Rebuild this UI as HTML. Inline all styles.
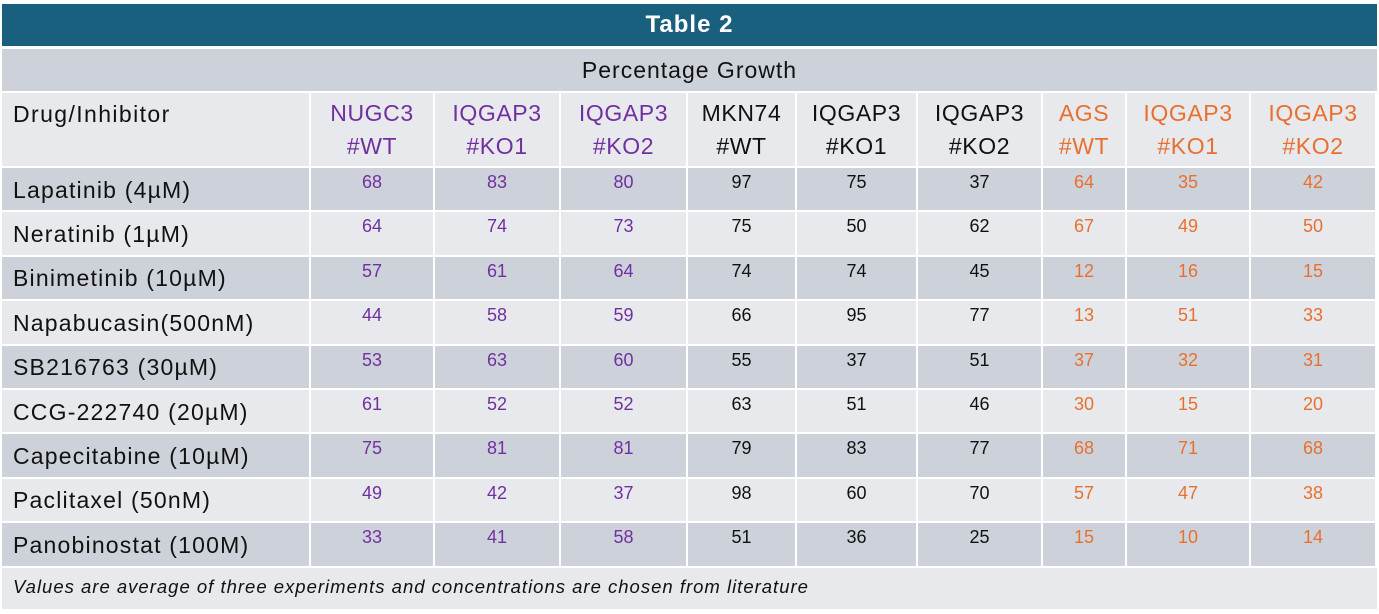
<!DOCTYPE html>
<html><head><meta charset="utf-8"><style>
*{margin:0;padding:0;box-sizing:border-box}
body{width:1379px;height:614px;background:#fff;font-family:"Liberation Sans",Arial,sans-serif;position:relative;overflow:hidden}
.title{position:absolute;left:2px;top:4px;width:1375px;height:42px;background:#19607f;color:#fff;font-weight:bold;font-size:24px;letter-spacing:1px;text-align:center;line-height:42px}
.sub{position:absolute;left:2px;top:49px;width:1375px;height:42px;background:#cdd2da;color:#111;font-size:23px;letter-spacing:1px;text-align:center;line-height:42px}
.grid{position:absolute;left:2px;top:93px;display:grid;grid-template-columns:309px 124px 126px 127px 109px 121px 125px 84px 124px 126px;grid-template-rows:75px repeat(9,44.4px) 43px}
.grid div{border-right:2px solid #fff;border-bottom:2px solid #fff;background:#e8e9ec;text-align:center;font-size:18px;padding-top:4px;color:#111}
.grid div.n{text-align:left;font-size:23px;letter-spacing:1.2px;padding:2px 0 0 11px;display:flex;align-items:center}
.grid div.h{font-size:23px;letter-spacing:0.6px;line-height:33px;padding-top:4px}
.grid div.hn{text-align:left;font-size:23px;letter-spacing:1.4px;padding:8px 0 0 11px}
.p{color:#7030a0!important}.o{color:#e8702f!important}
.grid div.dk{background:#cdd2da}
.foot{grid-column:1/11;text-align:left!important;font-style:italic;font-size:18.5px!important;letter-spacing:1px;padding:8px 0 0 11px!important;border-right:none!important}
</style></head><body>
<div class="title">Table 2</div>
<div class="sub">Percentage Growth</div>
<div class="grid">
<div class="hn">Drug/Inhibitor</div><div class="h p">NUGC3<br>#WT</div><div class="h p">IQGAP3<br>#KO1</div><div class="h p">IQGAP3<br>#KO2</div><div class="h">MKN74<br>#WT</div><div class="h">IQGAP3<br>#KO1</div><div class="h">IQGAP3<br>#KO2</div><div class="h o">AGS<br>#WT</div><div class="h o">IQGAP3<br>#KO1</div><div class="h o">IQGAP3<br>#KO2</div>

<div class="n dk">Lapatinib (4µM)</div><div class="p dk">68</div><div class="p dk">83</div><div class="p dk">80</div><div class="dk">97</div><div class="dk">75</div><div class="dk">37</div><div class="o dk">64</div><div class="o dk">35</div><div class="o dk">42</div>

<div class="n">Neratinib (1µM)</div><div class="p">64</div><div class="p">74</div><div class="p">73</div><div>75</div><div>50</div><div>62</div><div class="o">67</div><div class="o">49</div><div class="o">50</div>

<div class="n dk">Binimetinib (10µM)</div><div class="p dk">57</div><div class="p dk">61</div><div class="p dk">64</div><div class="dk">74</div><div class="dk">74</div><div class="dk">45</div><div class="o dk">12</div><div class="o dk">16</div><div class="o dk">15</div>

<div class="n">Napabucasin(500nM)</div><div class="p">44</div><div class="p">58</div><div class="p">59</div><div>66</div><div>95</div><div>77</div><div class="o">13</div><div class="o">51</div><div class="o">33</div>

<div class="n dk">SB216763 (30µM)</div><div class="p dk">53</div><div class="p dk">63</div><div class="p dk">60</div><div class="dk">55</div><div class="dk">37</div><div class="dk">51</div><div class="o dk">37</div><div class="o dk">32</div><div class="o dk">31</div>

<div class="n">CCG-222740 (20µM)</div><div class="p">61</div><div class="p">52</div><div class="p">52</div><div>63</div><div>51</div><div>46</div><div class="o">30</div><div class="o">15</div><div class="o">20</div>

<div class="n dk">Capecitabine (10µM)</div><div class="p dk">75</div><div class="p dk">81</div><div class="p dk">81</div><div class="dk">79</div><div class="dk">83</div><div class="dk">77</div><div class="o dk">68</div><div class="o dk">71</div><div class="o dk">68</div>

<div class="n">Paclitaxel (50nM)</div><div class="p">49</div><div class="p">42</div><div class="p">37</div><div>98</div><div>60</div><div>70</div><div class="o">57</div><div class="o">47</div><div class="o">38</div>

<div class="n dk">Panobinostat (100M)</div><div class="p dk">33</div><div class="p dk">41</div><div class="p dk">58</div><div class="dk">51</div><div class="dk">36</div><div class="dk">25</div><div class="o dk">15</div><div class="o dk">10</div><div class="o dk">14</div>

<div class="foot">Values are average of three experiments and concentrations are chosen from literature</div>
</div>
</body></html>
